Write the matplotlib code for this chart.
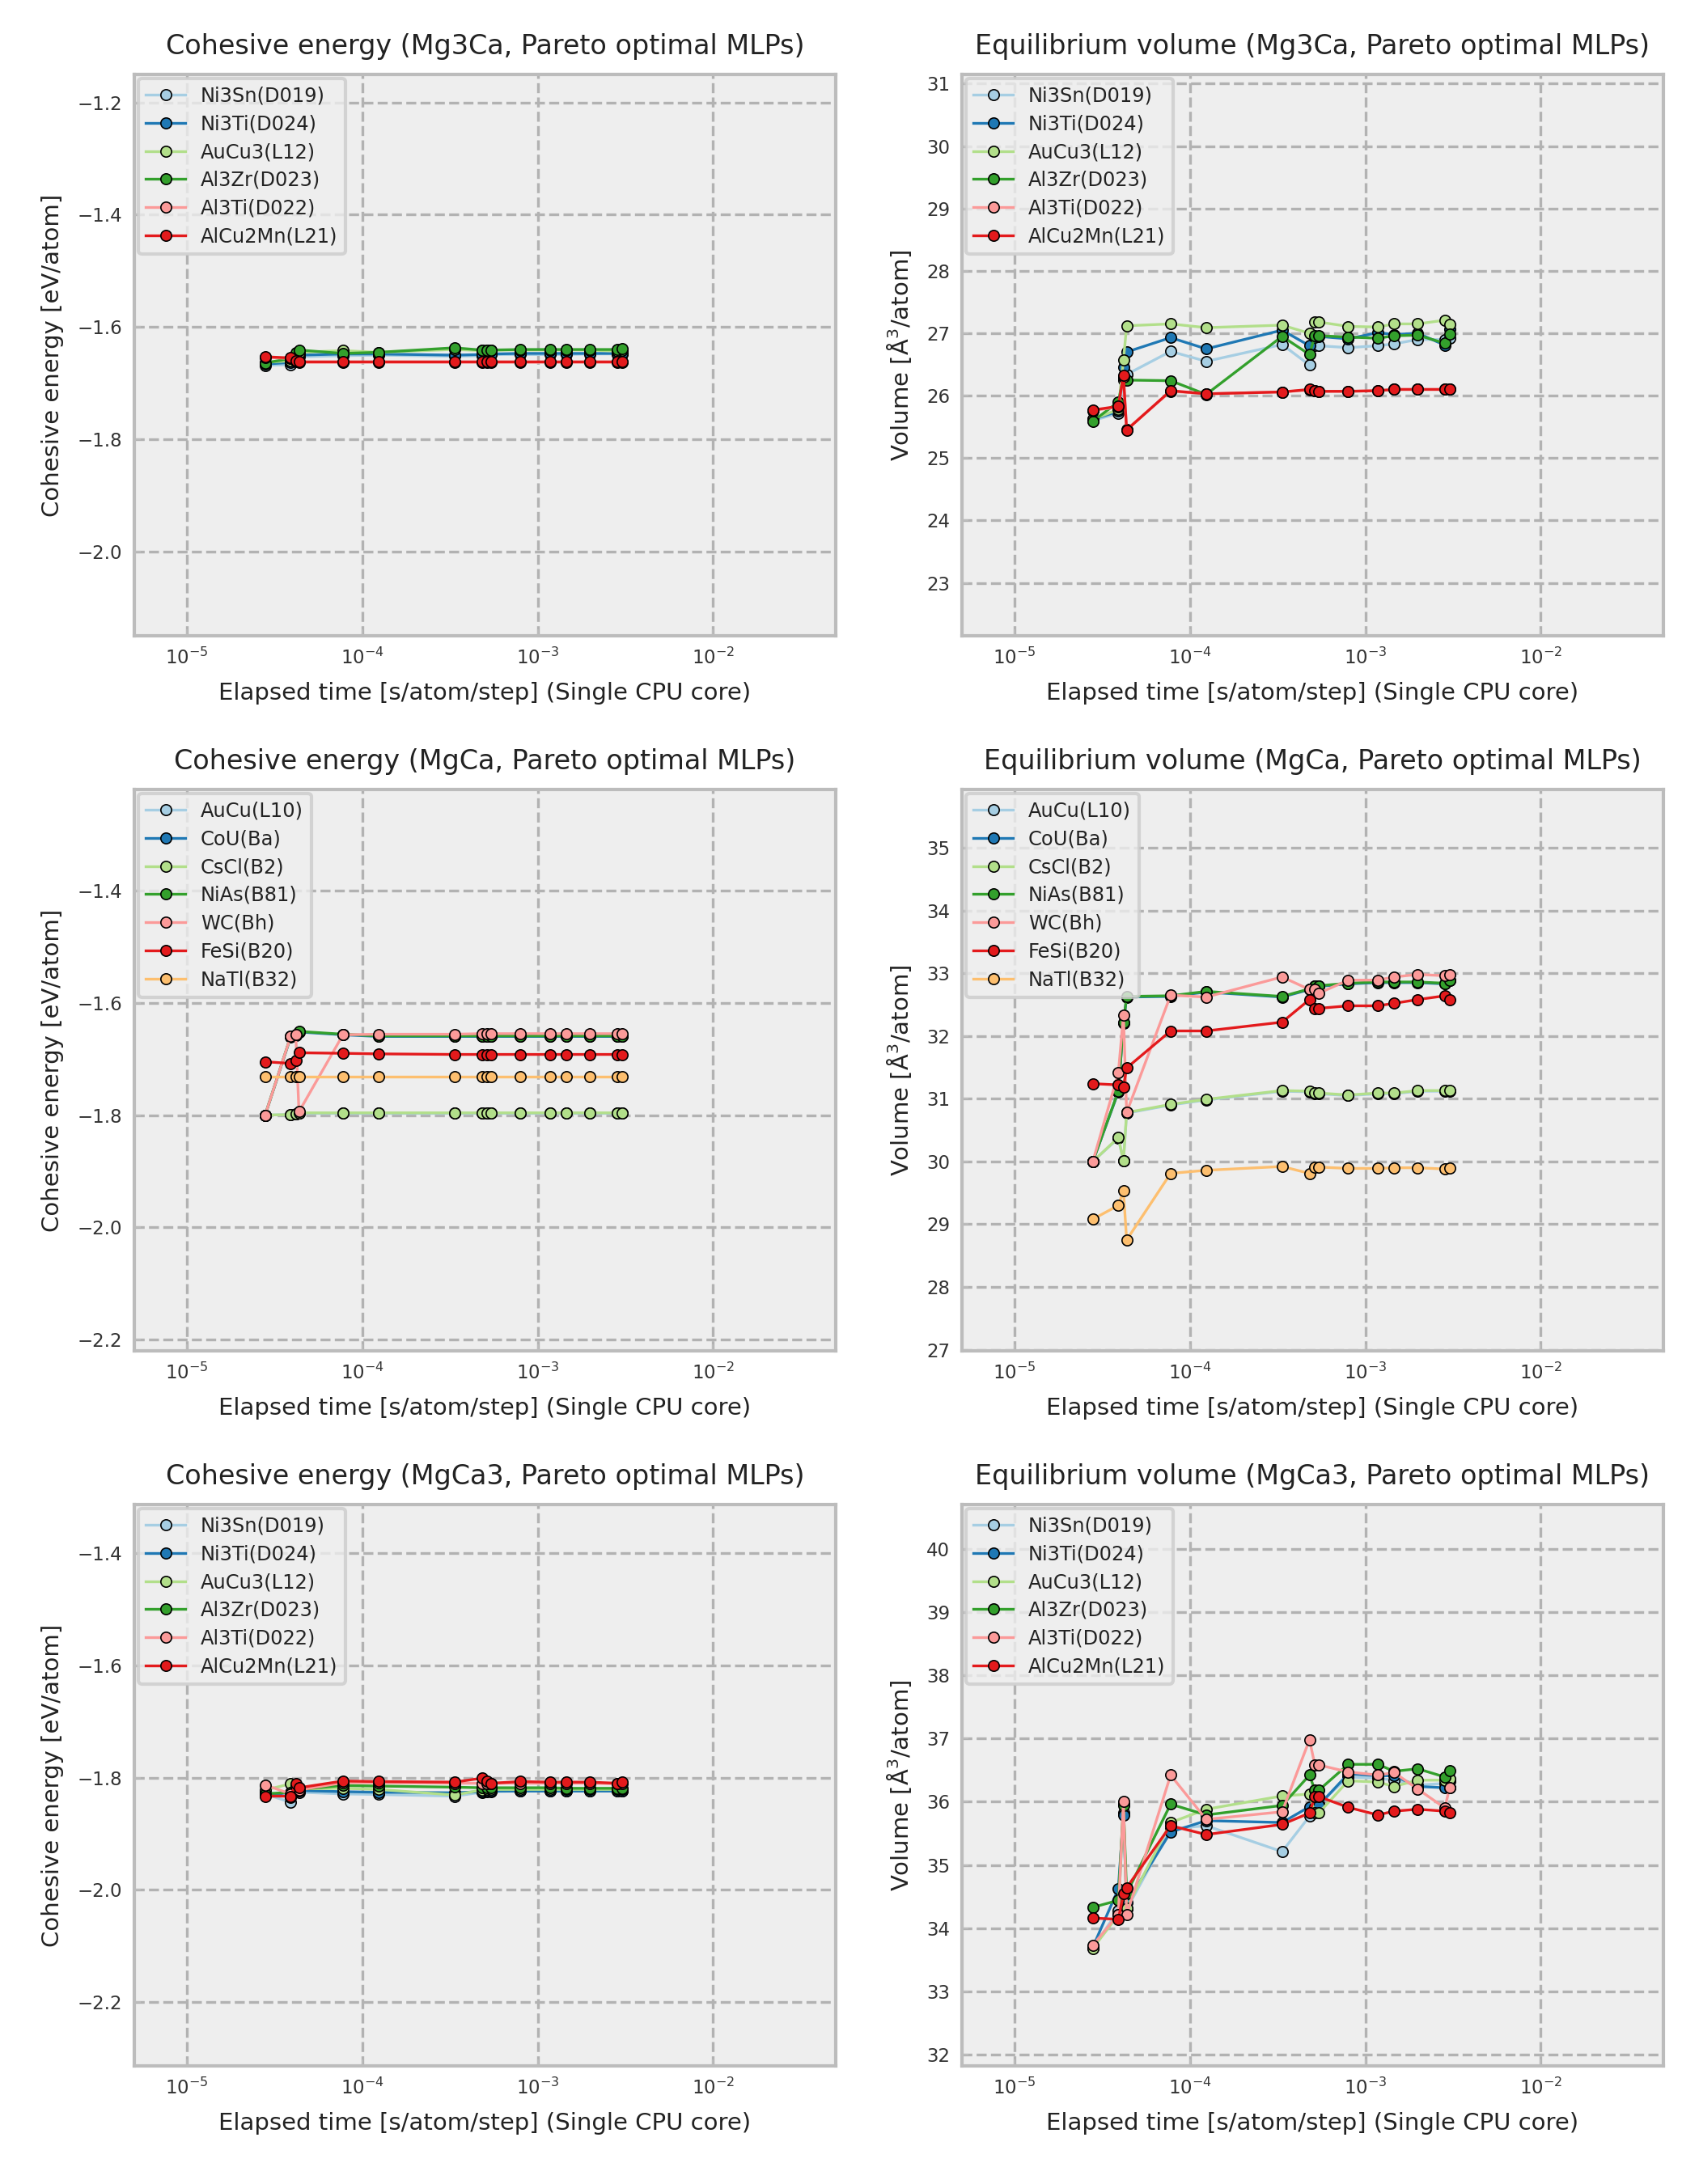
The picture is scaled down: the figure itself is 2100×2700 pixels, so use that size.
import numpy as np
import matplotlib
matplotlib.use('Agg')
import matplotlib.pyplot as plt
from matplotlib.ticker import MultipleLocator, NullLocator

# время расчёта (s/atom/step), общее для всех структур
times = [2.79e-5, 3.90e-5, 4.17e-5, 4.35e-5, 7.75e-5, 1.236e-4, 3.35e-4, 4.80e-4,
         5.15e-4, 5.42e-4, 7.98e-4, 1.178e-3, 1.459e-3, 1.986e-3, 2.84e-3, 3.02e-3]

# Mg3Ca
labels_mg3ca = ['Ni3Sn(D019)', 'Ni3Ti(D024)', 'AuCu3(L12)', 'Al3Zr(D023)', 'Al3Ti(D022)', 'AlCu2Mn(L21)']
e_mg3ca_ni3sn = [-1.668, -1.667, -1.656, -1.653, -1.651, -1.650, -1.652, -1.651, -1.649, -1.649, -1.649, -1.649, -1.649, -1.648, -1.648, -1.648]
e_mg3ca_ni3ti = [-1.666, -1.663, -1.652, -1.650, -1.648, -1.648, -1.650, -1.649, -1.648, -1.648, -1.647, -1.647, -1.647, -1.647, -1.647, -1.647]
e_mg3ca_aucu3 = [-1.663, -1.660, -1.650, -1.645, -1.642, -1.645, -1.640, -1.642, -1.641, -1.641, -1.641, -1.641, -1.641, -1.641, -1.643, -1.641]
e_mg3ca_al3zr = [-1.664, -1.656, -1.645, -1.641, -1.647, -1.645, -1.637, -1.641, -1.641, -1.641, -1.640, -1.640, -1.640, -1.640, -1.640, -1.639]
e_mg3ca_al3ti = [-1.654, -1.656, -1.661, -1.663, -1.663, -1.663, -1.663, -1.663, -1.663, -1.663, -1.663, -1.663, -1.663, -1.663, -1.663, -1.663]
e_mg3ca_alcu2mn = [-1.653, -1.655, -1.660, -1.662, -1.662, -1.662, -1.662, -1.662, -1.662, -1.662, -1.662, -1.662, -1.662, -1.662, -1.662, -1.662]

v_mg3ca_ni3sn = [25.60, 25.72, 26.25, 26.34, 26.71, 26.55, 26.82, 26.49, 26.80, 26.80, 26.77, 26.80, 26.83, 26.90, 26.90, 26.92]
v_mg3ca_ni3ti = [25.62, 25.75, 26.45, 26.70, 26.93, 26.75, 27.05, 26.80, 26.94, 26.95, 26.91, 27.01, 26.98, 27.00, 26.81, 27.07]
v_mg3ca_aucu3 = [25.62, 25.78, 26.57, 27.12, 27.15, 27.09, 27.13, 27.00, 27.18, 27.18, 27.11, 27.10, 27.15, 27.15, 27.21, 27.14]
v_mg3ca_al3zr = [25.59, 25.90, 26.30, 26.25, 26.24, 26.02, 26.95, 26.66, 26.96, 26.96, 26.94, 26.92, 26.96, 26.97, 26.84, 26.99]
v_mg3ca_al3ti = [25.76, 25.82, 26.30, 25.46, 26.07, 26.03, 26.06, 26.09, 26.08, 26.07, 26.07, 26.08, 26.10, 26.10, 26.10, 26.10]
v_mg3ca_alcu2mn = [25.77, 25.83, 26.32, 25.45, 26.08, 26.03, 26.06, 26.10, 26.08, 26.07, 26.07, 26.08, 26.10, 26.10, 26.10, 26.10]

# MgCa
labels_mgca = ['AuCu(L10)', 'CoU(Ba)', 'CsCl(B2)', 'NiAs(B81)', 'WC(Bh)', 'FeSi(B20)', 'NaTl(B32)']
e_mgca_aucu = [-1.800, -1.799, -1.798, -1.797, -1.797, -1.797, -1.797, -1.797, -1.797, -1.797, -1.797, -1.797, -1.797, -1.797, -1.797, -1.797]
e_mgca_cou = [-1.800, -1.661, -1.658, -1.652, -1.657, -1.660, -1.660, -1.660, -1.660, -1.660, -1.660, -1.660, -1.660, -1.660, -1.660, -1.660]
e_mgca_cscl = [-1.800, -1.799, -1.798, -1.796, -1.796, -1.796, -1.796, -1.796, -1.796, -1.796, -1.796, -1.796, -1.796, -1.796, -1.796, -1.796]
e_mgca_nias = [-1.800, -1.660, -1.657, -1.651, -1.656, -1.659, -1.659, -1.659, -1.659, -1.659, -1.659, -1.659, -1.659, -1.659, -1.659, -1.659]
e_mgca_wc = [-1.800, -1.660, -1.657, -1.794, -1.657, -1.656, -1.656, -1.655, -1.655, -1.655, -1.655, -1.655, -1.655, -1.655, -1.655, -1.655]
e_mgca_fesi = [-1.705, -1.708, -1.702, -1.689, -1.690, -1.691, -1.692, -1.692, -1.692, -1.692, -1.692, -1.692, -1.692, -1.692, -1.692, -1.692]
e_mgca_natl = [-1.732, -1.732, -1.732, -1.732, -1.732, -1.732, -1.732, -1.732, -1.732, -1.732, -1.732, -1.732, -1.732, -1.732, -1.732, -1.732]

v_mgca_aucu = [30.00, 30.37, 30.01, 30.77, 30.90, 30.98, 31.12, 31.11, 31.08, 31.08, 31.05, 31.08, 31.08, 31.12, 31.12, 31.12]
v_mgca_cou = [30.00, 31.11, 32.20, 32.62, 32.63, 32.70, 32.62, 32.74, 32.79, 32.79, 32.83, 32.85, 32.85, 32.85, 32.83, 32.88]
v_mgca_cscl = [30.00, 30.38, 30.01, 30.78, 30.91, 30.99, 31.13, 31.12, 31.09, 31.09, 31.06, 31.09, 31.09, 31.13, 31.13, 31.13]
v_mgca_nias = [30.00, 31.12, 32.21, 32.63, 32.64, 32.71, 32.63, 32.75, 32.80, 32.80, 32.84, 32.86, 32.86, 32.86, 32.84, 32.89]
v_mgca_wc = [30.00, 31.41, 32.33, 30.78, 32.65, 32.62, 32.94, 32.74, 32.75, 32.68, 32.89, 32.89, 32.94, 32.98, 32.96, 32.98]
v_mgca_fesi = [31.24, 31.22, 31.19, 31.49, 32.08, 32.08, 32.22, 32.58, 32.44, 32.44, 32.48, 32.48, 32.52, 32.58, 32.64, 32.58]
v_mgca_natl = [29.08, 29.30, 29.53, 28.75, 29.81, 29.86, 29.92, 29.81, 29.91, 29.91, 29.89, 29.89, 29.90, 29.90, 29.88, 29.90]

# MgCa3
labels_mgca3 = labels_mg3ca
e_mgca3_ni3sn = [-1.829, -1.844, -1.825, -1.826, -1.829, -1.830, -1.833, -1.826, -1.825, -1.825, -1.824, -1.824, -1.824, -1.824, -1.824, -1.824]
e_mgca3_ni3ti = [-1.826, -1.835, -1.824, -1.823, -1.825, -1.826, -1.827, -1.825, -1.824, -1.824, -1.824, -1.824, -1.824, -1.824, -1.824, -1.824]
e_mgca3_aucu3 = [-1.822, -1.811, -1.818, -1.820, -1.819, -1.821, -1.831, -1.822, -1.821, -1.821, -1.821, -1.821, -1.821, -1.821, -1.821, -1.821]
e_mgca3_al3zr = [-1.829, -1.826, -1.821, -1.821, -1.814, -1.815, -1.817, -1.818, -1.818, -1.818, -1.818, -1.818, -1.819, -1.819, -1.819, -1.819]
e_mgca3_al3ti = [-1.813, -1.829, -1.815, -1.822, -1.809, -1.809, -1.810, -1.810, -1.810, -1.810, -1.810, -1.810, -1.810, -1.810, -1.811, -1.810]
e_mgca3_alcu2mn = [-1.833, -1.833, -1.811, -1.818, -1.806, -1.807, -1.808, -1.801, -1.807, -1.810, -1.807, -1.808, -1.808, -1.808, -1.810, -1.808]

v_mgca3_ni3sn = [33.69, 34.28, 35.82, 34.30, 35.57, 35.62, 35.21, 35.77, 35.94, 35.96, 36.39, 36.37, 36.34, 36.26, 36.29, 36.33]
v_mgca3_ni3ti = [33.70, 34.62, 35.79, 34.40, 35.52, 35.70, 35.67, 35.92, 35.92, 35.94, 36.44, 36.41, 36.41, 36.24, 36.22, 36.22]
v_mgca3_aucu3 = [33.68, 34.21, 35.97, 34.32, 35.67, 35.88, 36.09, 36.12, 35.82, 35.82, 36.33, 36.31, 36.24, 36.34, 36.34, 36.36]
v_mgca3_al3zr = [34.33, 34.44, 35.94, 34.55, 35.96, 35.79, 35.94, 36.42, 36.18, 36.18, 36.59, 36.59, 36.48, 36.52, 36.39, 36.49]
v_mgca3_al3ti = [33.73, 34.22, 36.00, 34.21, 36.42, 35.72, 35.84, 36.98, 36.58, 36.58, 36.47, 36.42, 36.46, 36.20, 35.90, 36.22]
v_mgca3_alcu2mn = [34.16, 34.14, 34.54, 34.64, 35.62, 35.48, 35.64, 35.82, 36.08, 36.08, 35.91, 35.79, 35.85, 35.88, 35.85, 35.82]

colors = ['#a6cee3', '#1f78b4', '#b2df8a', '#33a02c', '#fb9a99', '#e31a1c', '#fdbf6f']

plt.rcParams['font.family'] = ['DejaVu Sans']
plt.rcParams['axes.facecolor'] = '#eeeeee'
plt.rcParams['axes.edgecolor'] = '#bcbcbc'
plt.rcParams['axes.linewidth'] = 1.0
plt.rcParams['grid.color'] = '#b2b2b2'
plt.rcParams['grid.linestyle'] = '--'
plt.rcParams['grid.linewidth'] = 0.8
plt.rcParams['xtick.direction'] = 'in'
plt.rcParams['ytick.direction'] = 'in'
plt.rcParams['xtick.color'] = '#bcbcbc'
plt.rcParams['ytick.color'] = '#bcbcbc'
plt.rcParams['xtick.labelcolor'] = '#333333'
plt.rcParams['ytick.labelcolor'] = '#333333'
plt.rcParams['text.color'] = '#222222'
plt.rcParams['axes.labelcolor'] = '#222222'

fig, axes = plt.subplots(3, 2, figsize=(7, 9), dpi=300)
fig.subplots_adjust(left=0.079, right=0.979, top=0.966, bottom=0.054, wspace=0.18, hspace=0.273)

panels = [
    ('Mg3Ca', labels_mg3ca,
     [e_mg3ca_ni3sn, e_mg3ca_ni3ti, e_mg3ca_aucu3, e_mg3ca_al3zr, e_mg3ca_al3ti, e_mg3ca_alcu2mn],
     [v_mg3ca_ni3sn, v_mg3ca_ni3ti, v_mg3ca_aucu3, v_mg3ca_al3zr, v_mg3ca_al3ti, v_mg3ca_alcu2mn],
     (-2.15, -1.15), (22.15, 31.15)),
    ('MgCa', labels_mgca,
     [e_mgca_aucu, e_mgca_cou, e_mgca_cscl, e_mgca_nias, e_mgca_wc, e_mgca_fesi, e_mgca_natl],
     [v_mgca_aucu, v_mgca_cou, v_mgca_cscl, v_mgca_nias, v_mgca_wc, v_mgca_fesi, v_mgca_natl],
     (-2.22, -1.22), (26.98, 35.93)),
    ('MgCa3', labels_mgca3,
     [e_mgca3_ni3sn, e_mgca3_ni3ti, e_mgca3_aucu3, e_mgca3_al3zr, e_mgca3_al3ti, e_mgca3_alcu2mn],
     [v_mgca3_ni3sn, v_mgca3_ni3ti, v_mgca3_aucu3, v_mgca3_al3zr, v_mgca3_al3ti, v_mgca3_alcu2mn],
     (-2.314, -1.313), (31.82, 40.70)),
]

for row, (comp, labels, energies, volumes, elim, vlim) in enumerate(panels):
    ax_e = axes[row, 0]
    ax_v = axes[row, 1]
    for i in range(len(labels)):
        ax_e.plot(times, energies[i], color=colors[i], marker='o', markersize=3.2,
                  markeredgecolor='black', markeredgewidth=0.4, linewidth=0.8, label=labels[i])
        ax_v.plot(times, volumes[i], color=colors[i], marker='o', markersize=3.2,
                  markeredgecolor='black', markeredgewidth=0.4, linewidth=0.8, label=labels[i])

    ax_e.set_title('Cohesive energy (' + comp + ', Pareto optimal MLPs)', fontsize=8)
    ax_e.set_ylabel('Cohesive energy [eV/atom]', fontsize=7)
    ax_e.set_ylim(elim)
    ax_e.yaxis.set_major_locator(MultipleLocator(0.2))

    ax_v.set_title('Equilibrium volume (' + comp + ', Pareto optimal MLPs)', fontsize=8)
    ax_v.set_ylabel(r'Volume [$\mathrm{\AA}^3$/atom]', fontsize=7)
    ax_v.set_ylim(vlim)
    ax_v.yaxis.set_major_locator(MultipleLocator(1))

    for ax in (ax_e, ax_v):
        ax.set_xscale('log')
        ax.set_xlim(5e-6, 5e-2)
        ax.xaxis.set_minor_locator(NullLocator())
        ax.grid(True)
        ax.set_axisbelow(True)
        ax.set_xlabel('Elapsed time [s/atom/step] (Single CPU core)', fontsize=7)
        ax.tick_params(labelsize=5.5, length=2, width=0.5)
        ax.legend(loc='upper left', fontsize=5.8, fancybox=True, framealpha=0.8,
                  edgecolor='#cccccc', facecolor='#eeeeee', borderaxespad=0.2,
                  labelspacing=0.45)

plt.savefig('out.png', dpi=300)
